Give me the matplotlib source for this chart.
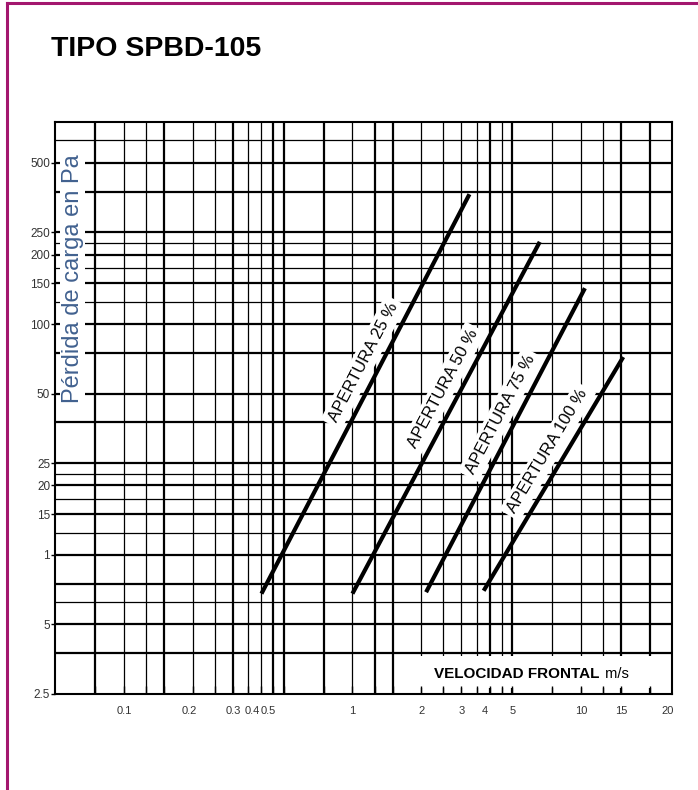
import numpy as np
import matplotlib
matplotlib.use('Agg')
import matplotlib.pyplot as plt
from matplotlib.lines import Line2D
from matplotlib.patches import Rectangle
from matplotlib.ticker import NullLocator, FixedLocator, NullFormatter
import matplotlib.transforms as mtransforms

plt.rcParams['font.family'] = ['Liberation Sans', 'DejaVu Sans']

# curves: pressure drop vs frontal velocity, one per damper opening
aperturas = ['APERTURA 25 %', 'APERTURA 50 %', 'APERTURA 75 %', 'APERTURA 100 %']
v_start = [0.4, 1.0, 2.1, 3.75]
v_end = [3.25, 6.6, 10.4, 15.3]
dp_start = [6.8, 6.8, 6.9, 7.0]
dp_end = [365, 227, 143, 72]

# axis labels as printed on the chart (the "1" stands where 10 should be)
x_ticks = [0.1, 0.2, 0.3, 0.4, 0.5, 1, 2, 3, 4, 5, 10, 15, 20]
x_ticklabels = ['0.1', '0.2', '0.3', '0.4', '0.5', '1', '2', '3', '4', '5', '10', '15', '20']
y_ticks = [2.5, 5, 10, 15, 20, 25, 50, 100, 150, 200, 250, 500]
y_ticklabels = ['2.5', '5', '1', '15', '20', '25', '50', '100', '150', '200', '250', '500']

# printed grid of the log paper
v_grid = [0.075, 0.1, 0.125, 0.15, 0.2, 0.25, 0.3, 0.35, 0.4, 0.45, 0.5, 0.75,
          1, 1.25, 1.5, 2, 2.5, 3, 3.5, 4, 4.5, 5, 7.5, 10, 12.5, 15, 20]
dp_grid = [625, 500, 375, 250, 225, 200, 175, 150, 125, 100, 75, 50, 37.5,
           25, 22.5, 20, 17.5, 15, 12.5, 10, 7.5, 6.25, 5, 3.75]
heavy_v = {0.075, 0.15, 0.3, 0.45, 0.5, 0.75, 1.25, 1.5, 4, 5, 15, 20}
heavy_dp = {500, 375, 250, 200, 150, 100, 75, 50, 37.5, 25, 20, 15, 10, 7.5, 5, 3.75}

W, H = 698, 790
fig = plt.figure(figsize=(W / 100, H / 100), dpi=100)
ax = fig.add_axes([55 / W, 1 - 694 / H, 617 / W, 572 / H])
ax.set_xscale('log')
ax.set_yscale('log')
ax.set_xlim(0.05, 25)
ax.set_ylim(2.5, 750)

for v in v_grid:
    ax.axvline(v, color='black', lw=1.6 if v in heavy_v else 0.9, zorder=1)
for p in dp_grid:
    ax.axhline(p, color='black', lw=1.6 if p in heavy_dp else 0.9, zorder=1)

# blank band behind the axis title inside the plot
ax.add_patch(Rectangle((0.559, 0.011), 0.437, 0.056, transform=ax.transAxes,
                       facecolor='white', edgecolor='none', zorder=2))
ax.text(0.883, 0.035, 'VELOCIDAD FRONTAL', transform=ax.transAxes, ha='right',
        va='center', fontsize=11, fontweight='bold', zorder=2.9)
ax.text(0.885, 0.035, ' m/s', transform=ax.transAxes, ha='left', va='center',
        fontsize=10.5, zorder=2.9)

ax.set_axisbelow(False)
ax.xaxis.set_minor_locator(FixedLocator(v_grid))
ax.xaxis.set_minor_formatter(NullFormatter())
ax.yaxis.set_minor_locator(NullLocator())
ax.set_xticks(x_ticks)
ax.set_xticklabels(x_ticklabels)
ax.set_yticks(y_ticks)
ax.set_yticklabels(y_ticklabels)
ax.tick_params(axis='x', which='both', direction='in', length=6, width=1, pad=9,
               labelsize=8, labelcolor='#333333')
ax.tick_params(axis='y', direction='out', length=3, width=1, pad=0.5,
               labelsize=8.5, labelcolor='#333333')
for s in ax.spines.values():
    s.set_linewidth(1.5)

# a few printed labels sit off their grid line
shift_px = {'0.2': -3, '0.4': -9, '0.5': -15, '4': -5, '20': 18}
for lab in ax.get_xticklabels():
    dx = shift_px.get(lab.get_text(), 0)
    if dx:
        lab.set_transform(lab.get_transform() +
                          mtransforms.ScaledTranslation(dx / 100, 0, fig.dpi_scale_trans))

# curves and their labels
off = 16.5 * 72 / 100
for name, vs, ve, ds, de in zip(aperturas, v_start, v_end, dp_start, dp_end):
    ax.plot([vs, ve], [ds, de], color='black', lw=3, solid_capstyle='butt', zorder=3)
    t = 0.56
    xm = 10 ** (np.log10(vs) + t * (np.log10(ve) - np.log10(vs)))
    ym = 10 ** (np.log10(ds) + t * (np.log10(de) - np.log10(ds)))
    p0 = ax.transData.transform((vs, ds))
    p1 = ax.transData.transform((ve, de))
    d = p1 - p0
    ang = np.degrees(np.arctan2(d[1], d[0]))
    n = np.array([-d[1], d[0]]) / np.hypot(*d)
    ax.annotate(name, (xm, ym), xytext=(n[0] * off, n[1] * off),
                textcoords='offset points', rotation=ang, rotation_mode='anchor',
                ha='center', va='center', fontsize=12, zorder=2.8,
                bbox=dict(facecolor='white', edgecolor='none', pad=3))

ax.text(0.0284, 0.727, 'Pérdida de carga en Pa', transform=ax.transAxes,
        rotation=90, ha='center', va='center', fontsize=17, color='#41618f',
        zorder=2.9, bbox=dict(facecolor='white', edgecolor='none', pad=1))

fig.text(51 / W, 1 - 49 / H, 'TIPO SPBD-105', fontsize=20.5, fontweight='bold',
         ha='left', va='center')

# magenta page frame
frame = '#a3166e'
fig.add_artist(Line2D([7 / W, 1], [1 - 3 / H, 1 - 3 / H], transform=fig.transFigure,
                      color=frame, lw=2.2))
fig.add_artist(Line2D([7 / W, 7 / W], [0, 1 - 3 / H], transform=fig.transFigure,
                      color=frame, lw=2.2))

fig.savefig('out.png', dpi=100)
